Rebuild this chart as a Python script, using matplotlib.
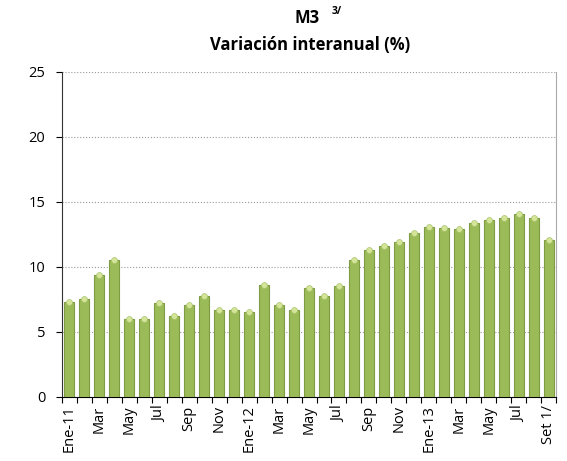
import matplotlib.pyplot as plt
import numpy as np

values = [7.3, 7.5, 9.4, 10.5, 6.0, 6.0, 7.2, 6.2, 7.1, 7.8, 6.7, 6.7, 6.5,
          8.6, 7.1, 6.7, 8.4, 7.8, 8.5, 10.5, 11.3, 11.6, 11.9, 12.6, 13.1,
          13.0, 12.9, 13.4, 13.6, 13.8, 14.1, 13.8, 12.1]
tick_labels = ["Ene-11", "Mar", "May", "Jul", "Sep", "Nov", "Ene-12", "Mar", "May",
               "Jul", "Sep", "Nov", "Ene-13", "Mar", "May", "Jul", "Set 1/"]

plt.rcParams['font.family'] = ['Open Sans', 'DejaVu Sans']

fig = plt.figure(figsize=(5.67, 4.61), dpi=100)
ax = fig.add_axes([0.109, 0.139, 0.872, 0.705])

x = np.arange(len(values))
ax.bar(x, values, width=0.66, color='#9bbb59', edgecolor='#7f9c45', linewidth=0.8, zorder=3)
# light cap on top of each bar
ax.scatter(x, values, marker='o', s=18, color='#d4e59a', edgecolor='#a9c46a',
           linewidth=0.5, zorder=4)

ax.set_xlim(-0.5, len(values) - 0.5)
ax.set_ylim(0, 25)
ax.set_yticks([0, 5, 10, 15, 20, 25])
ax.yaxis.grid(True, linestyle=':', color='#999999', linewidth=0.8, zorder=0)

ax.set_xticks(x[::2])
ax.set_xticklabels(tick_labels, rotation=90, fontsize=10.5)
ax.set_xticks(np.arange(len(values) + 1) - 0.5, minor=True)
ax.tick_params(axis='x', which='major', length=0, pad=6)
ax.tick_params(axis='x', which='minor', length=4, width=0.8, direction='out')
ax.tick_params(axis='y', labelsize=10.5, length=4, width=0.8, pad=8)

ax.spines['top'].set_visible(False)
ax.spines['right'].set_color('#aaaaaa')
ax.spines['left'].set_color('#333333')
ax.spines['bottom'].set_color('black')

fig.text(0.541, 0.962, "M3", ha='center', va='center', fontsize=12, fontweight='bold')
fig.text(0.585, 0.975, "3/", ha='left', va='center', fontsize=7.5, fontweight='bold')
fig.text(0.547, 0.902, "Variación interanual (%)", ha='center', va='center',
         fontsize=12, fontweight='bold')

fig.savefig("out.png", dpi=100)
